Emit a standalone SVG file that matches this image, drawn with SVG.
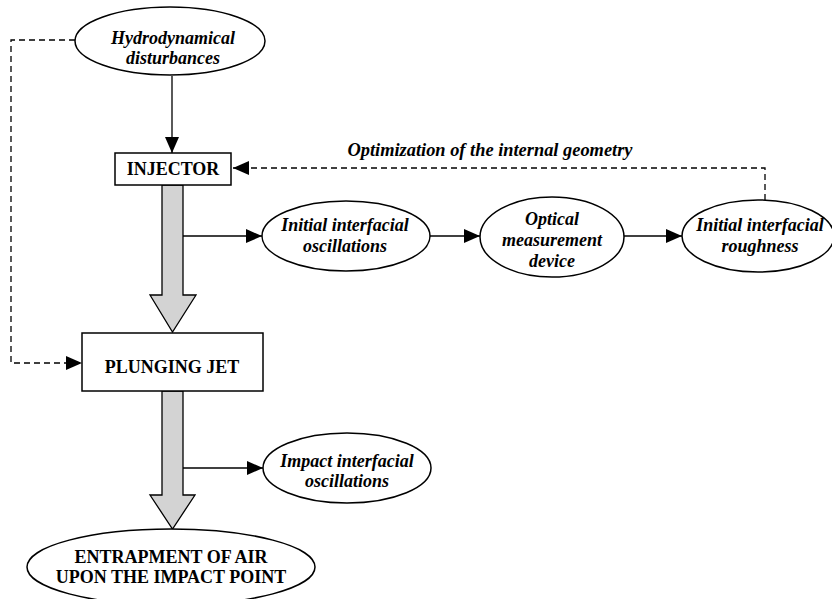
<svg xmlns="http://www.w3.org/2000/svg" width="832" height="599" viewBox="0 0 832 599">
<defs>
<marker id="ah" markerWidth="16" markerHeight="14" refX="16" refY="7" orient="auto" markerUnits="userSpaceOnUse">
<path d="M0,0 L16,7 L0,14 Z" fill="#000"/>
</marker>
<style>
.n{fill:#fff;stroke:#000;stroke-width:1.5}
.ti{font-family:"Liberation Serif","Times New Roman",serif;font-size:18px;font-weight:bold;font-style:italic;text-anchor:middle;fill:#000}
.tb{font-family:"Liberation Serif","Times New Roman",serif;font-size:18px;font-weight:bold;text-anchor:middle;fill:#000}
.c{fill:none;stroke:#000;stroke-width:1.3}
.d{fill:none;stroke:#000;stroke-width:1.3;stroke-dasharray:6,4}
.big{fill:#d3d3d3;stroke:#000;stroke-width:1.3}
</style>
</defs>
<rect width="832" height="599" fill="#fff"/>
<g id="connectors">
<path class="d" d="M75,40 H11 V363 H82" marker-end="url(#ah)"/>
<path class="c" d="M172,76 V153" marker-end="url(#ah)"/>
<path class="d" d="M765,200 V168 H233" marker-end="url(#ah)"/>
<path class="big" d="M162,185 H183 V295 H196 L172.5,332 L150,295 H162 Z"/>
<path class="big" d="M162,391 H183 V495 H195 L172.5,529 L150,495 H162 Z"/>
<path class="c" d="M183,236 H262" marker-end="url(#ah)"/>
<path class="c" d="M430,236 H480" marker-end="url(#ah)"/>
<path class="c" d="M624,236 H682" marker-end="url(#ah)"/>
<path class="c" d="M183,468 H263" marker-end="url(#ah)"/>
<text class="ti" x="490" y="156" style="font-size:18.4px">Optimization of the internal geometry</text>
</g>
<g id="hydro">
<ellipse class="n" cx="170" cy="41" rx="95" ry="34"/>
<text class="ti" x="173" y="44">Hydrodynamical</text>
<text class="ti" x="173" y="64">disturbances</text>
</g>
<g id="injector">
<rect class="n" x="115" y="153" width="116" height="32"/>
<text class="tb" x="173" y="175">INJECTOR</text>
</g>
<g id="initial-osc">
<ellipse class="n" cx="346" cy="236" rx="84" ry="35"/>
<text class="ti" x="345" y="231">Initial interfacial</text>
<text class="ti" x="345" y="252">oscillations</text>
</g>
<g id="optical">
<ellipse class="n" cx="552" cy="237" rx="72" ry="40"/>
<text class="ti" x="552" y="225">Optical</text>
<text class="ti" x="552" y="246">measurement</text>
<text class="ti" x="552" y="267">device</text>
</g>
<g id="roughness">
<ellipse class="n" cx="758" cy="236" rx="76" ry="36"/>
<text class="ti" x="760" y="231">Initial interfacial</text>
<text class="ti" x="760" y="252">roughness</text>
</g>
<g id="plunging">
<rect class="n" x="82" y="333" width="181" height="58"/>
<text class="tb" x="172" y="373">PLUNGING JET</text>
</g>
<g id="impact-osc">
<ellipse class="n" cx="347" cy="468" rx="84" ry="35"/>
<text class="ti" x="347" y="467">Impact interfacial</text>
<text class="ti" x="347" y="487">oscillations</text>
</g>
<g id="entrapment">
<ellipse class="n" cx="171" cy="567" rx="144" ry="38"/>
<text class="tb" x="171" y="563">ENTRAPMENT OF AIR</text>
<text class="tb" x="171" y="583">UPON THE IMPACT POINT</text>
</g>
</svg>
